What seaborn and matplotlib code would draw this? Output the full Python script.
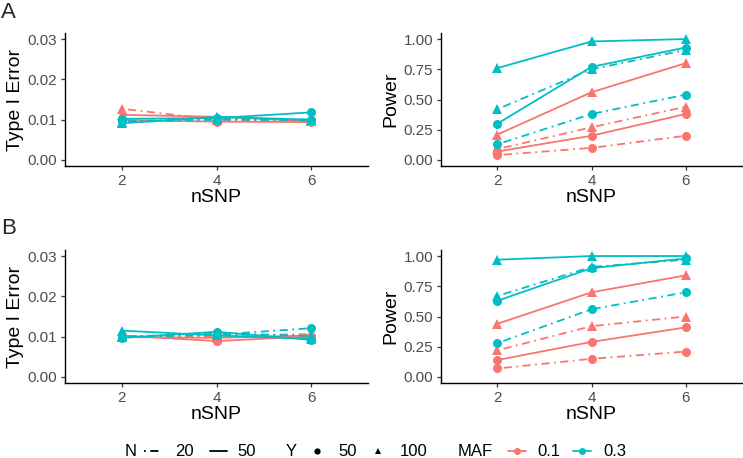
import numpy as np
import pandas as pd
import matplotlib
matplotlib.use("Agg")
import matplotlib.pyplot as plt
from matplotlib.lines import Line2D
import seaborn as sns

sns.set_theme(style="ticks")
plt.rcParams['font.family'] = ['Liberation Sans', 'DejaVu Sans']

# ---------------- data ----------------
nsnp = [2, 4, 6]
# series keys: (MAF, N, Y)
series_keys = [
    ("0.1", "20", "50"), ("0.1", "20", "100"), ("0.1", "50", "50"), ("0.1", "50", "100"),
    ("0.3", "20", "50"), ("0.3", "20", "100"), ("0.3", "50", "50"), ("0.3", "50", "100"),
]

# Panel A - Type I error
a_type1_maf01_n20_y50 = [0.0096, 0.0100, 0.0098]
a_type1_maf01_n20_y100 = [0.0127, 0.0100, 0.0097]
a_type1_maf01_n50_y50 = [0.0099, 0.0095, 0.0094]
a_type1_maf01_n50_y100 = [0.0112, 0.0107, 0.0096]
a_type1_maf03_n20_y50 = [0.0096, 0.0100, 0.0100]
a_type1_maf03_n20_y100 = [0.0093, 0.0102, 0.0098]
a_type1_maf03_n50_y50 = [0.0102, 0.0104, 0.0118]
a_type1_maf03_n50_y100 = [0.0091, 0.0107, 0.0100]

# Panel A - Power
a_power_maf01_n20_y50 = [0.04, 0.10, 0.20]
a_power_maf01_n20_y100 = [0.09, 0.27, 0.44]
a_power_maf01_n50_y50 = [0.07, 0.20, 0.38]
a_power_maf01_n50_y100 = [0.21, 0.56, 0.80]
a_power_maf03_n20_y50 = [0.13, 0.38, 0.54]
a_power_maf03_n20_y100 = [0.42, 0.75, 0.91]
a_power_maf03_n50_y50 = [0.30, 0.77, 0.93]
a_power_maf03_n50_y100 = [0.76, 0.98, 1.00]

# Panel B - Type I error
b_type1_maf01_n20_y50 = [0.0100, 0.0101, 0.0099]
b_type1_maf01_n20_y100 = [0.0101, 0.0104, 0.0106]
b_type1_maf01_n50_y50 = [0.0103, 0.0089, 0.0101]
b_type1_maf01_n50_y100 = [0.0099, 0.0097, 0.0103]
b_type1_maf03_n20_y50 = [0.0098, 0.0105, 0.0121]
b_type1_maf03_n20_y100 = [0.0100, 0.0108, 0.0102]
b_type1_maf03_n50_y50 = [0.0097, 0.0112, 0.0092]
b_type1_maf03_n50_y100 = [0.0115, 0.0103, 0.0095]

# Panel B - Power
b_power_maf01_n20_y50 = [0.07, 0.15, 0.21]
b_power_maf01_n20_y100 = [0.22, 0.42, 0.50]
b_power_maf01_n50_y50 = [0.14, 0.29, 0.41]
b_power_maf01_n50_y100 = [0.44, 0.70, 0.84]
b_power_maf03_n20_y50 = [0.28, 0.56, 0.70]
b_power_maf03_n20_y100 = [0.67, 0.91, 0.97]
b_power_maf03_n50_y50 = [0.63, 0.90, 0.98]
b_power_maf03_n50_y100 = [0.97, 1.00, 1.00]

a_type1 = [a_type1_maf01_n20_y50, a_type1_maf01_n20_y100, a_type1_maf01_n50_y50, a_type1_maf01_n50_y100,
           a_type1_maf03_n20_y50, a_type1_maf03_n20_y100, a_type1_maf03_n50_y50, a_type1_maf03_n50_y100]
a_power = [a_power_maf01_n20_y50, a_power_maf01_n20_y100, a_power_maf01_n50_y50, a_power_maf01_n50_y100,
           a_power_maf03_n20_y50, a_power_maf03_n20_y100, a_power_maf03_n50_y50, a_power_maf03_n50_y100]
b_type1 = [b_type1_maf01_n20_y50, b_type1_maf01_n20_y100, b_type1_maf01_n50_y50, b_type1_maf01_n50_y100,
           b_type1_maf03_n20_y50, b_type1_maf03_n20_y100, b_type1_maf03_n50_y50, b_type1_maf03_n50_y100]
b_power = [b_power_maf01_n20_y50, b_power_maf01_n20_y100, b_power_maf01_n50_y50, b_power_maf01_n50_y100,
           b_power_maf03_n20_y50, b_power_maf03_n20_y100, b_power_maf03_n50_y50, b_power_maf03_n50_y100]

type1_ticks = [0.00, 0.01, 0.02, 0.03]
type1_ticklabels = ["0.00", "0.01", "0.02", "0.03"]
power_ticks = [0.00, 0.25, 0.50, 0.75, 1.00]
power_ticklabels = ["0.00", "0.25", "0.50", "0.75", "1.00"]
x_ticks = [2, 4, 6]


def make_df(values):
    rows = []
    for (maf, n, y), vals in zip(series_keys, values):
        for x, v in zip(nsnp, vals):
            rows.append({"nSNP": x, "value": v, "MAF": maf, "N": n, "Y": y, "NY": f"{n}_{y}"})
    return pd.DataFrame(rows)


# ---------------- styling ----------------
RED = "#F8766D"
TEAL = "#00BFC4"
palette = {"0.1": RED, "0.3": TEAL}
DASHDOT = (1, 2.5, 4.5, 2.5)
dashes = {"20_50": DASHDOT, "20_100": DASHDOT, "50_50": "", "50_100": ""}
markers = {"20_50": "o", "20_100": "^", "50_50": "o", "50_100": "^"}
LW = 1.3
MS = 6.5

W, H = 743, 458
fig = plt.figure(figsize=(W / 100, H / 100), dpi=100)


def px_axes(left, top, right, bottom):
    return fig.add_axes([left / W, 1 - bottom / H, (right - left) / W, (bottom - top) / H])


axA1 = px_axes(65, 33, 368, 166)
axA2 = px_axes(441, 33, 742, 166)
axB1 = px_axes(65, 250, 368, 383)
axB2 = px_axes(441, 250, 742, 383)

panels = [
    (axA1, a_type1, "Type I Error", type1_ticks, type1_ticklabels, (-0.0015, 0.0315)),
    (axA2, a_power, "Power", power_ticks, power_ticklabels, (-0.05, 1.05)),
    (axB1, b_type1, "Type I Error", type1_ticks, type1_ticklabels, (-0.0015, 0.0315)),
    (axB2, b_power, "Power", power_ticks, power_ticklabels, (-0.05, 1.05)),
]

for ax, vals, ylabel, yt, ytl, ylim in panels:
    df = make_df(vals)
    sns.lineplot(data=df, x="nSNP", y="value", hue="MAF", style="NY",
                 palette=palette, dashes=dashes, markers=markers,
                 hue_order=["0.1", "0.3"], style_order=["20_50", "20_100", "50_50", "50_100"],
                 linewidth=LW, markersize=MS, markeredgewidth=0,
                 legend=False, ax=ax, estimator=None, sort=True)
    ax.set_xlim(0.8, 7.2)
    ax.set_ylim(*ylim)
    ax.set_xticks(x_ticks)
    ax.set_xticklabels([str(t) for t in x_ticks])
    ax.set_yticks(yt)
    ax.set_yticklabels(ytl)
    ax.set_xlabel("nSNP", fontsize=14, color="black", labelpad=1)
    ax.set_ylabel(ylabel, fontsize=14, color="black", labelpad=3)
    for s in ["top", "right"]:
        ax.spines[s].set_visible(False)
    for s in ["left", "bottom"]:
        ax.spines[s].set_linewidth(1.0)
        ax.spines[s].set_color("black")
    ax.tick_params(axis="both", labelsize=11, labelcolor="#4D4D4D", color="#333333",
                   length=3, width=0.9, pad=2.5)
    ax.grid(False)

fig.text(1 / W, 1 - 12 / H, "A", fontsize=16, ha="left", va="center")
fig.text(1 / W, 1 - 228 / H, "B", fontsize=16, ha="left", va="center")

# ---------------- legend (drawn in figure pixel coordinates) ----------------
LEG_Y = 1 - 451 / H
LEG_FS = 12


def ltext(x, s):
    fig.text(x / W, LEG_Y, s, fontsize=LEG_FS, ha="left", va="center", color="black")


def lline(x0, x1, color, **kw):
    fig.add_artist(Line2D([x0 / W, x1 / W], [LEG_Y, LEG_Y], transform=fig.transFigure,
                          color=color, linewidth=LW, **kw))


def lmark(x, color, marker, ms):
    fig.add_artist(Line2D([x / W], [LEG_Y], transform=fig.transFigure, color=color,
                          linestyle="none", marker=marker, markersize=ms, markeredgewidth=0))


ltext(125, "N")
lline(144, 160, "black", dashes=DASHDOT)
ltext(175, "20")
lline(210, 227, "black")
ltext(237, "50")
ltext(286, "Y")
lmark(317, "black", "o", 4.5)
ltext(338, "50")
lmark(378, "black", "^", 4.5)
ltext(400, "100")
ltext(458, "MAF")
lline(508, 526, RED)
lmark(517, RED, "o", 5)
ltext(537, "0.1")
lline(573, 591, TEAL)
lmark(582, TEAL, "o", 5)
ltext(603, "0.3")

fig.savefig("out.png", dpi=100)
